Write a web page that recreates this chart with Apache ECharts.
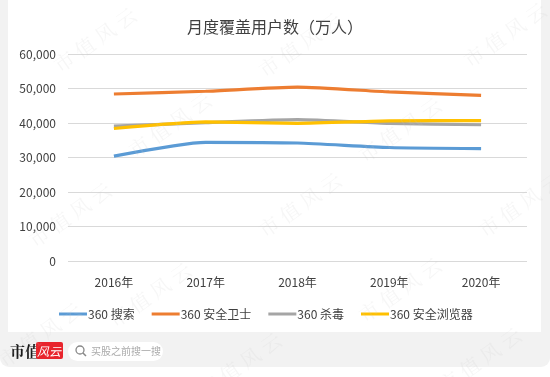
<!DOCTYPE html>
<html>
<head>
<meta charset="utf-8">
<script src="https://cdn.jsdelivr.net/npm/echarts@6/dist/echarts.min.js"></script>
<style>
html,body{margin:0;padding:0;background:#fff;}
#c{width:550px;height:377px;}
</style>
</head>
<body>
<div id="c"></div>
<script>
const categories = ['2016年','2017年','2018年','2019年','2020年'];
const seriesNames = ['360 搜索','360 安全卫士','360 杀毒','360 安全浏览器'];
const search = [30400, 34400, 34200, 32900, 32600];
const guard = [48400, 49200, 50400, 49000, 48000];
const antivirus = [39100, 40100, 41000, 39900, 39500];
const browser = [38400, 40300, 39900, 40600, 40700];
const colors = ['#5B9BD5','#ED7D31','#A5A5A5','#FFC000'];
const yTicks = [0, 60000, 10000];

const chart = echarts.init(document.getElementById('c'));
const font = '"Noto Sans CJK SC","Noto Sans",sans-serif';

const wm = [];
const wmPos = [[95,40],[300,45],[505,35],[170,125],[400,130],[70,215],[300,205],[520,205],[150,295],[400,290],[40,335],[240,365],[480,360]];
wmPos.forEach(p => wm.push({
  type:'text', x:p[0], y:p[1], rotation: Math.PI*35/180, z:100, silent:true,
  style:{text:'市 值 风 云', fill:'rgba(200,200,200,0.16)', font:'20px "Noto Serif CJK SC","Noto Sans CJK SC"', align:'center', verticalAlign:'middle'}
}));

const data = [search, guard, antivirus, browser];
chart.setOption({
  backgroundColor:'#ffffff',
  animation:false,
  title:{text:'月度覆盖用户数（万人）', left:'center', top:14,
    textStyle:{fontFamily:font, fontSize:16, fontWeight:'normal', color:'#404040'}},
  grid:{left:68, right:23, top:54, bottom:116},
  legend:{bottom:52, left:54, itemWidth:28, itemHeight:3, itemGap:17,
    icon:'rect',
    textStyle:{fontFamily:font, fontSize:12, color:'#404040', padding:[0,0,0,-4]},
    data: seriesNames},
  xAxis:{type:'category', data:categories, boundaryGap:true,
    axisLine:{show:false}, axisTick:{show:false},
    axisLabel:{fontFamily:font, fontSize:12, color:'#404040', margin:15}},
  yAxis:{type:'value', min:yTicks[0], max:yTicks[1], interval:yTicks[2],
    axisLine:{show:false}, axisTick:{show:false},
    splitLine:{lineStyle:{color:'#d9d9d9', width:1}},
    axisLabel:{fontFamily:font, fontSize:12, color:'#404040', margin:12,
      formatter: v => v.toLocaleString('en-US')}},
  series: seriesNames.map((n,i)=>({
    name:n, type:'line', data:data[i], smooth:0.2, symbol:'none',
    lineStyle:{color:colors[i], width:3.2}, itemStyle:{color:colors[i]}
  })),
  graphic:[
    {type:'rect', shape:{x:0,y:0,width:550,height:367,r:[0,0,9,9]}, style:{fill:'#f2f2f2'}, z:-10, silent:true},
    {type:'rect', shape:{x:8,y:0,width:533,height:332}, style:{fill:'#ffffff'}, z:-9, silent:true},
    {type:'text', x:10, y:351, style:{text:'市值', font:'bold 15px "Noto Serif CJK SC","Noto Sans CJK SC"', fill:'#1a1a1a', verticalAlign:'middle'}},
    {type:'rect', shape:{x:36,y:342,width:27,height:17,r:2}, style:{fill:'#e8242c'}},
    {type:'text', x:49, y:351, style:{text:'风云', font:'italic 12px "Noto Sans CJK SC"', fill:'#ffffff', align:'center', verticalAlign:'middle'}},
    {type:'rect', shape:{x:68,y:342,width:95,height:19,r:9.5}, style:{fill:'#ffffff'}},
    {type:'circle', shape:{cx:80,cy:350,r:4}, style:{fill:'none', stroke:'#888', lineWidth:1.3}},
    {type:'line', shape:{x1:83,y1:353,x2:86,y2:356}, style:{stroke:'#888', lineWidth:1.5}},
    {type:'text', x:91, y:351.5, style:{text:'买股之前搜一搜', font:'10px "Noto Sans CJK SC"', fill:'#aaaaaa', verticalAlign:'middle'}}
  ].concat(wm)
});
</script>
</body>
</html>
